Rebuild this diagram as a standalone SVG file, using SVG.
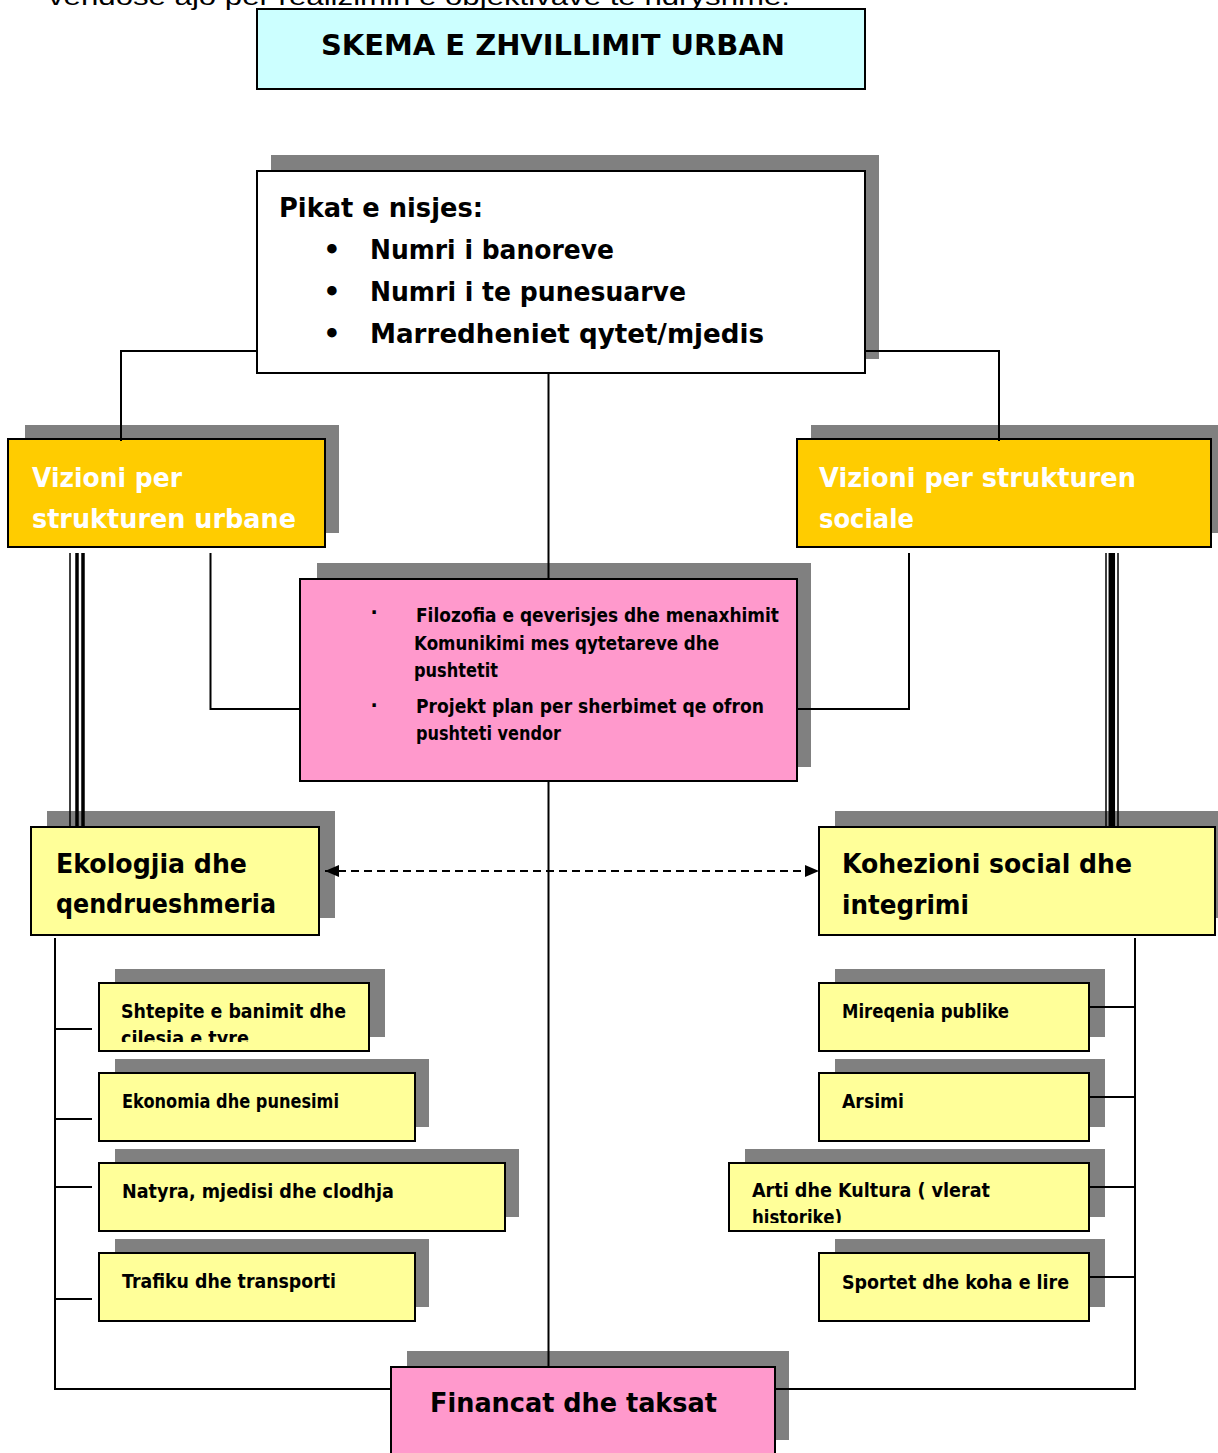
<svg xmlns="http://www.w3.org/2000/svg" width="1218" height="1453" viewBox="0 0 1218 1453">
<style>
.sh{fill:#808080}
.bx{stroke:#000;stroke-width:2}
.or{fill:#FFCC00}.yl{fill:#FFFF99}.pk{fill:#FF99CC}.cy{fill:#CCFFFF}.wh{fill:#FFFFFF}
.t{font-family:"DejaVu Sans","Liberation Sans",sans-serif;font-weight:bold;fill:#000}
.big{font-size:27px}.sm{font-size:19px}
.w{fill:#FFFFFF}
.ln{stroke:#000;stroke-width:2;fill:none}
.dash{stroke:#000;stroke-width:2;fill:none;stroke-dasharray:8 5}
</style>
<defs>
<marker id="ah" viewBox="0 0 14 12" refX="14" refY="6" markerUnits="userSpaceOnUse" markerWidth="14" markerHeight="12" orient="auto-start-reverse">
<path d="M0,0 L14,6 L0,12 z" fill="#000"/>
</marker>
<clipPath id="c1"><rect x="99" y="984" width="270" height="58"/></clipPath>
<clipPath id="c2"><rect x="730" y="1164" width="358" height="59"/></clipPath>
</defs>
<rect width="1218" height="1453" fill="#FFFFFF"/>
<text x="48" y="5" font-family="'Liberation Sans',Arial,sans-serif" font-size="24" textLength="742" lengthAdjust="spacingAndGlyphs">vendose ajo per realizimin e objektivave te ndryshme.</text>

<g id="title">
<rect class="bx cy" x="257" y="9" width="608" height="80"/>
<text class="t" x="321" y="55" font-size="29" textLength="464" lengthAdjust="spacingAndGlyphs">SKEMA E ZHVILLIMIT URBAN</text>
</g>

<g id="pikat">
<rect class="sh" x="271" y="155" width="608" height="204"/>
<rect class="bx wh" x="257" y="171" width="608" height="202"/>
<text class="t big" x="279" y="217" textLength="204" lengthAdjust="spacingAndGlyphs">Pikat e nisjes:</text>
<text class="t big" x="332" y="259" text-anchor="middle">•</text>
<text class="t big" x="332" y="301" text-anchor="middle">•</text>
<text class="t big" x="332" y="343" text-anchor="middle">•</text>
<text class="t big" x="370" y="259" textLength="244" lengthAdjust="spacingAndGlyphs">Numri i banoreve</text>
<text class="t big" x="370" y="301" textLength="316" lengthAdjust="spacingAndGlyphs">Numri i te punesuarve</text>
<text class="t big" x="370" y="343" textLength="394" lengthAdjust="spacingAndGlyphs">Marredheniet qytet/mjedis</text>
</g>

<g id="vizioni-urbane">
<rect class="sh" x="25" y="425" width="314" height="108"/>
<rect class="bx or" x="8" y="439" width="317" height="108"/>
<text class="t big w" x="32" y="487" textLength="150" lengthAdjust="spacingAndGlyphs">Vizioni per</text>
<text class="t big w" x="32" y="528" textLength="264" lengthAdjust="spacingAndGlyphs">strukturen urbane</text>
</g>

<g id="vizioni-sociale">
<rect class="sh" x="811" y="425" width="407" height="108"/>
<rect class="bx or" x="797" y="439" width="414" height="108"/>
<text class="t big w" x="819" y="487" textLength="317" lengthAdjust="spacingAndGlyphs">Vizioni per strukturen</text>
<text class="t big w" x="819" y="528" textLength="95" lengthAdjust="spacingAndGlyphs">sociale</text>
</g>

<g id="filozofia">
<rect class="sh" x="317" y="563" width="494" height="204"/>
<rect class="bx pk" x="300" y="579" width="497" height="202"/>
<text class="t sm" x="374" y="619" text-anchor="middle">·</text>
<text class="t sm" x="374" y="712" text-anchor="middle">·</text>
<text class="t sm" x="416" y="622" textLength="363" lengthAdjust="spacingAndGlyphs">Filozofia e qeverisjes dhe menaxhimit</text>
<text class="t sm" x="414" y="650" textLength="305" lengthAdjust="spacingAndGlyphs">Komunikimi mes qytetareve dhe</text>
<text class="t sm" x="414" y="677" textLength="84" lengthAdjust="spacingAndGlyphs">pushtetit</text>
<text class="t sm" x="416" y="713" textLength="348" lengthAdjust="spacingAndGlyphs">Projekt plan per sherbimet qe ofron</text>
<text class="t sm" x="416" y="740" textLength="145" lengthAdjust="spacingAndGlyphs">pushteti vendor</text>
</g>

<g id="ekologjia">
<rect class="sh" x="47" y="811" width="288" height="107"/>
<rect class="bx yl" x="31" y="827" width="288" height="108"/>
<text class="t big" x="56" y="873" textLength="191" lengthAdjust="spacingAndGlyphs">Ekologjia dhe</text>
<text class="t big" x="56" y="913" textLength="220" lengthAdjust="spacingAndGlyphs">qendrueshmeria</text>
</g>

<g id="kohezioni">
<rect class="sh" x="835" y="811" width="383" height="107"/>
<rect class="bx yl" x="819" y="827" width="396" height="108"/>
<text class="t big" x="842" y="873" textLength="290" lengthAdjust="spacingAndGlyphs">Kohezioni social dhe</text>
<text class="t big" x="842" y="914" textLength="127" lengthAdjust="spacingAndGlyphs">integrimi</text>
</g>

<g id="shtepite">
<rect class="sh" x="115" y="969" width="270" height="68"/>
<rect class="bx yl" x="99" y="983" width="270" height="68"/>
<g clip-path="url(#c1)">
<text class="t sm" x="121" y="1018" textLength="225" lengthAdjust="spacingAndGlyphs">Shtepite e banimit dhe</text>
<text class="t sm" x="121" y="1045" textLength="128" lengthAdjust="spacingAndGlyphs">cilesia e tyre</text>
</g>
</g>

<g id="ekonomia">
<rect class="sh" x="115" y="1059" width="314" height="68"/>
<rect class="bx yl" x="99" y="1073" width="316" height="68"/>
<text class="t sm" x="122" y="1108" textLength="217" lengthAdjust="spacingAndGlyphs">Ekonomia dhe punesimi</text>
</g>

<g id="natyra">
<rect class="sh" x="115" y="1149" width="404" height="68"/>
<rect class="bx yl" x="99" y="1163" width="406" height="68"/>
<text class="t sm" x="122" y="1198" textLength="272" lengthAdjust="spacingAndGlyphs">Natyra, mjedisi dhe clodhja</text>
</g>

<g id="trafiku">
<rect class="sh" x="115" y="1239" width="314" height="68"/>
<rect class="bx yl" x="99" y="1253" width="316" height="68"/>
<text class="t sm" x="122" y="1288" textLength="214" lengthAdjust="spacingAndGlyphs">Trafiku dhe transporti</text>
</g>

<g id="mireqenia">
<rect class="sh" x="835" y="969" width="270" height="68"/>
<rect class="bx yl" x="819" y="983" width="270" height="68"/>
<text class="t sm" x="842" y="1018" textLength="167" lengthAdjust="spacingAndGlyphs">Mireqenia publike</text>
</g>

<g id="arsimi">
<rect class="sh" x="835" y="1059" width="270" height="68"/>
<rect class="bx yl" x="819" y="1073" width="270" height="68"/>
<text class="t sm" x="842" y="1108" textLength="62" lengthAdjust="spacingAndGlyphs">Arsimi</text>
</g>

<g id="arti">
<rect class="sh" x="745" y="1149" width="360" height="68"/>
<rect class="bx yl" x="729" y="1163" width="360" height="68"/>
<g clip-path="url(#c2)">
<text class="t sm" x="752" y="1197" textLength="238" lengthAdjust="spacingAndGlyphs">Arti dhe Kultura ( vlerat</text>
<text class="t sm" x="752" y="1224" textLength="90" lengthAdjust="spacingAndGlyphs">historike)</text>
</g>
</g>

<g id="sportet">
<rect class="sh" x="835" y="1239" width="270" height="68"/>
<rect class="bx yl" x="819" y="1253" width="270" height="68"/>
<text class="t sm" x="842" y="1289" textLength="227" lengthAdjust="spacingAndGlyphs">Sportet dhe koha e lire</text>
</g>

<g id="financat">
<rect class="sh" x="407" y="1351" width="382" height="89"/>
<rect class="bx pk" x="391" y="1367" width="384" height="100"/>
<text class="t big" x="430" y="1412" textLength="287" lengthAdjust="spacingAndGlyphs">Financat dhe taksat</text>
</g>

<g id="connectors">
<path class="ln" d="M257,351 H121 V441"/>
<path class="ln" d="M865,351 H999 V441"/>
<path class="ln" d="M548.5,373 V579"/>
<path class="ln" d="M548.5,781 V1367"/>
<path class="ln" d="M210.5,553 V709 H300"/>
<path class="ln" d="M909,553 V709 H797"/>
<g stroke="#000" fill="none">
<path d="M70,553 V826" stroke-width="1.5"/>
<path d="M77,553 V826" stroke-width="3.5"/>
<path d="M83,553 V826" stroke-width="3.5"/>
<path d="M1106,553 V826" stroke-width="1.5"/>
<path d="M1111.8,553 V826" stroke-width="6.5"/>
<path d="M1118,553 V826" stroke-width="1.5"/>
</g>
<path class="ln" d="M55,938 V1389 H391"/>
<path class="ln" d="M55,1029 H92"/>
<path class="ln" d="M55,1119 H92"/>
<path class="ln" d="M55,1187 H92"/>
<path class="ln" d="M55,1299 H92"/>
<path class="ln" d="M1135,938 V1389 H775"/>
<path class="ln" d="M1089,1007 H1135"/>
<path class="ln" d="M1089,1097 H1135"/>
<path class="ln" d="M1089,1187 H1135"/>
<path class="ln" d="M1089,1277 H1135"/>
<path class="dash" d="M325,871 H819" marker-start="url(#ah)" marker-end="url(#ah)"/>
</g>
</svg>
